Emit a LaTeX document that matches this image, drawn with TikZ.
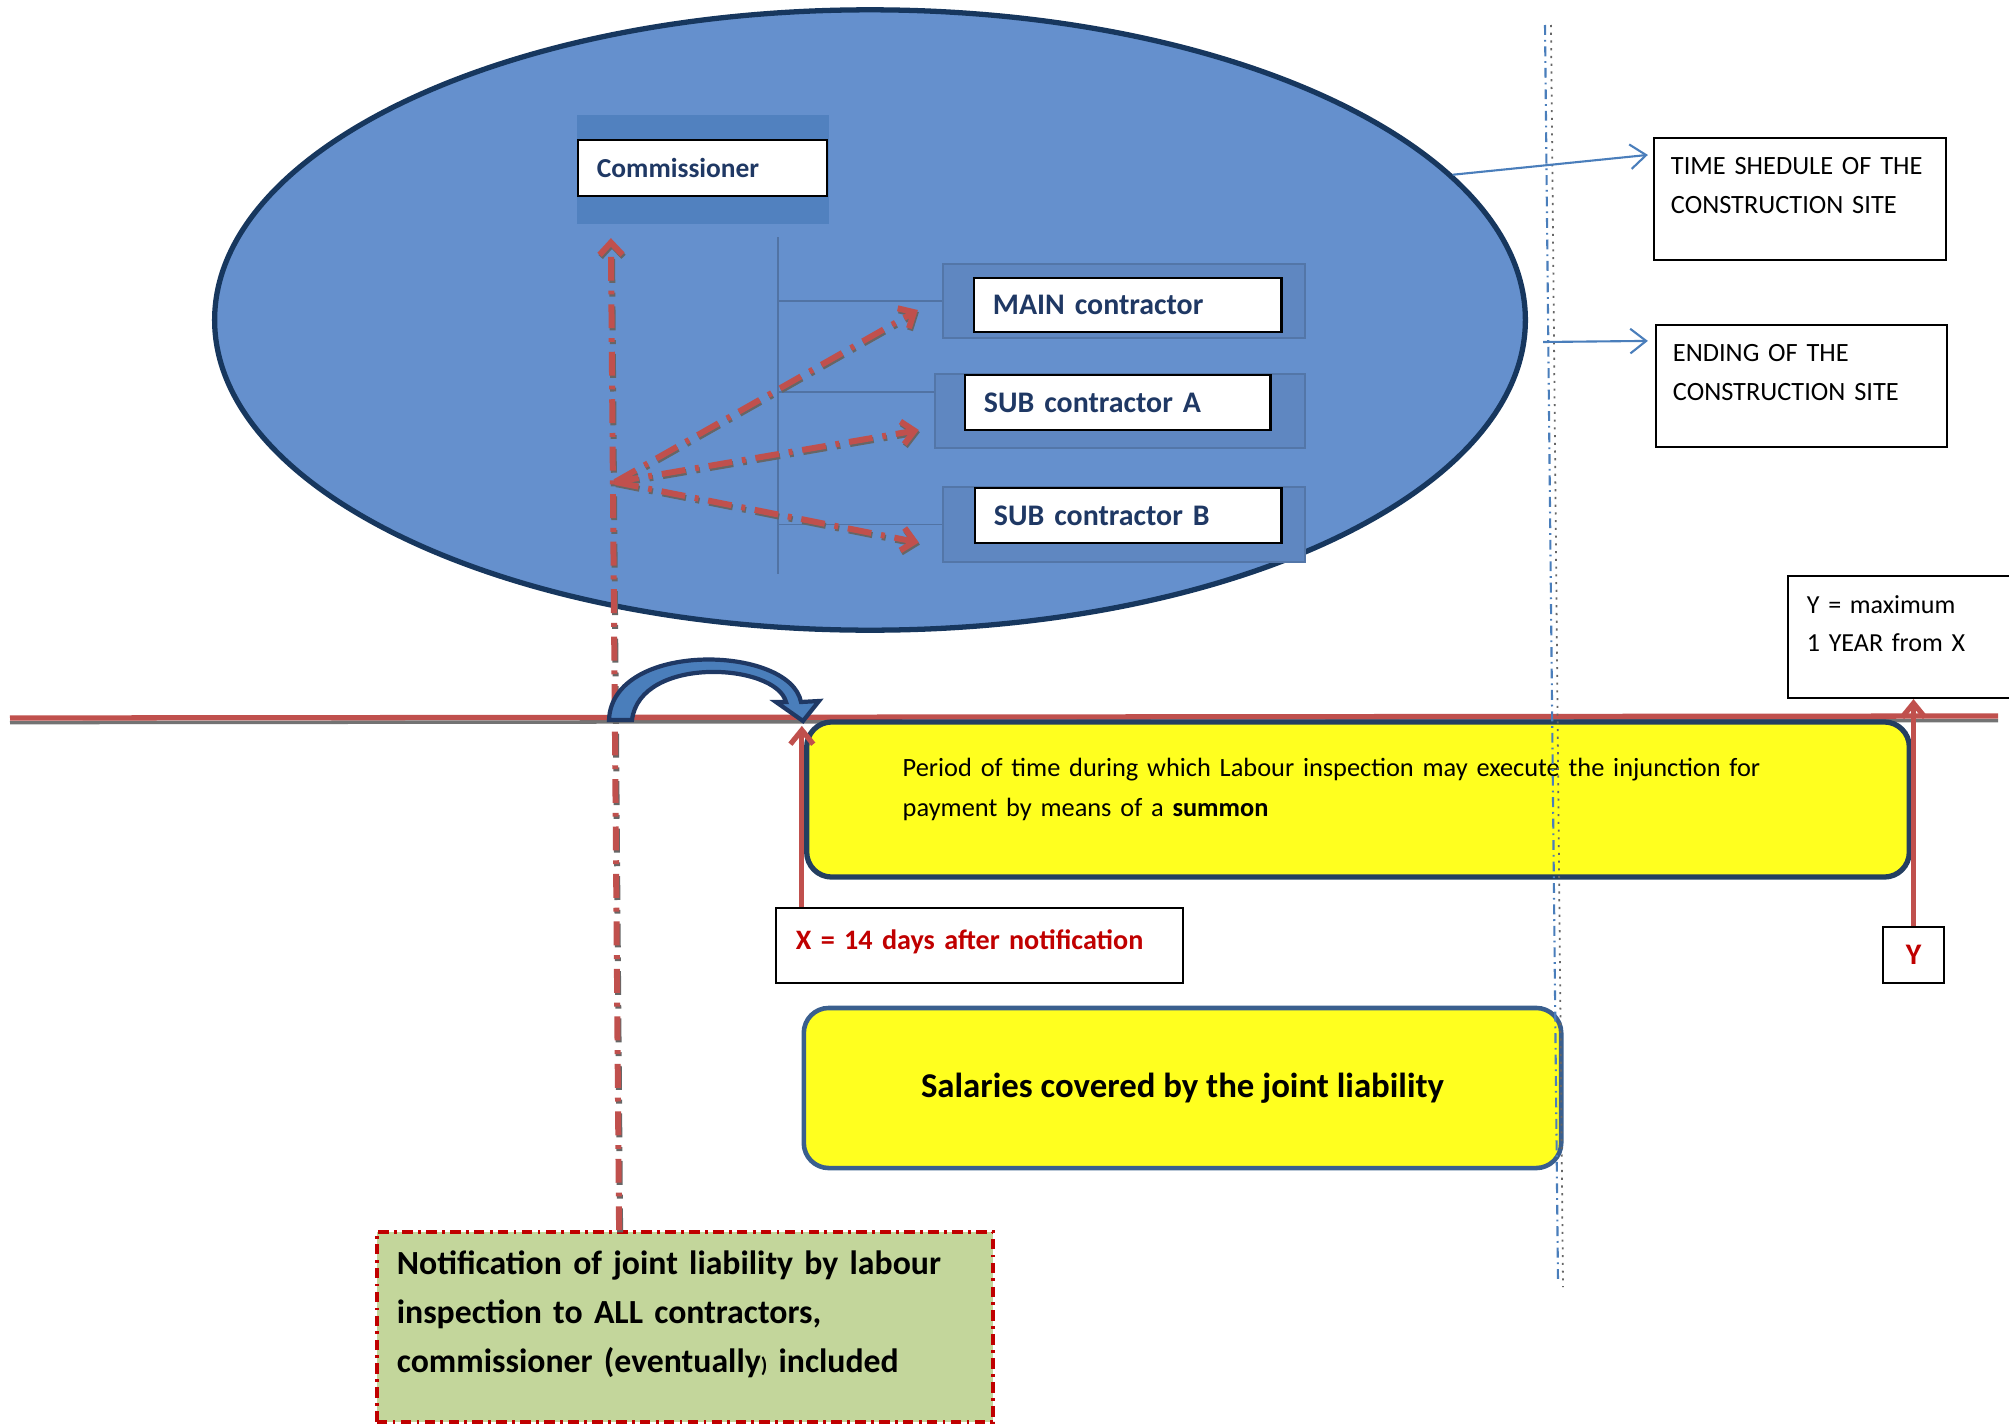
\documentclass[tikz,border=0pt]{standalone}
\usepackage{fontspec}
\setmainfont{Carlito}
\usetikzlibrary{shapes.geometric,arrows.meta,calc,positioning}
\definecolor{siteblue}{HTML}{6590CD}
\definecolor{sitenavy}{HTML}{17375E}
\definecolor{bandblue}{HTML}{5181BF}
\definecolor{rolenavy}{HTML}{1F3864}
\definecolor{inkred}{HTML}{C0504D}
\definecolor{textred}{HTML}{C00000}
\definecolor{lineblue}{HTML}{4A7EBB}
\definecolor{boxyellow}{HTML}{FFFF1F}
\definecolor{notegreen}{HTML}{C3D69B}
\definecolor{framenavy}{HTML}{243F60}
\definecolor{framesteel}{HTML}{3A5F8E}
\tikzset{
	sitebox/.style   = {draw=sitenavy, line width=1.5pt, ellipse, fill=siteblue},
	bandbox/.style   = {rectangle, fill=siteblue!94!black, draw=siteblue!82!black, line width=0.6pt},
	rolebox/.style   = {draw, rectangle, line width=0.8pt, fill=white, text=rolenavy,
		align=left, inner xsep=0.19cm, font=\bfseries\fontsize{8.5}{10}\selectfont},
	infobox/.style   = {draw, rectangle, line width=0.6pt, fill=white, align=left,
		inner xsep=0.19cm, minimum height=1.22cm, font=\fontsize{7.5}{11.2}\selectfont},
	yellowbox/.style = {draw=framenavy, line width=1.5pt, rectangle, rounded corners=0.25cm,
		fill=boxyellow},
	noticebox/.style = {draw=textred, line width=1pt, rectangle, fill=notegreen, align=left,
		dash pattern=on 3pt off 1.5pt on 0.8pt off 1.5pt, inner xsep=0.2cm,
		font=\bfseries\fontsize{9.6}{13.9}\selectfont},
	orgline/.style   = {draw=siteblue!80!black, line width=0.5pt},
	reddash/.style   = {line width=1.7pt, dash pattern=on 6.8pt off 2.8pt on 1.1pt off 2.8pt},
	redarrow/.style  = {draw=inkred, reddash, -{Straight Barb[length=3.5pt,width=6.5pt]},
		preaction={draw=black!60, reddash, transform canvas={shift={(0.3pt,-0.6pt)}}}},
	timeline/.style  = {draw=inkred, line width=1.5pt,
		preaction={draw=black!55, line width=1pt, transform canvas={yshift=-1.3pt}}},
	tlarrow/.style   = {draw=inkred, line width=1.5pt, -{Straight Barb[length=4pt,width=6.5pt]}},
	bluearrow/.style = {draw=lineblue, line width=0.6pt, -{Straight Barb[length=4.5pt,width=7pt]}},
	hoparrow/.style  = {draw=rolenavy, line width=1.2pt, fill=lineblue}
}

\begin{document}
\begin{tikzpicture}[x=0.01cm, y=-0.01cm]
	\useasboundingbox (0,0) rectangle (2009,1424);

	% the construction site with its parties
	\draw
	node at (870,320) [sitebox, minimum width=13.1cm, minimum height=6.2cm] (site) {}
	node at (703,169.5) [bandbox, fill=bandblue, draw=none, minimum width=2.52cm, minimum height=1.09cm] (commband) {}
	node at (702.5,168) [rolebox, text width=2.11cm, minimum height=0.56cm,
		font=\bfseries\fontsize{7.8}{9}\selectfont] (comm) {Commissioner}
	node at (1124,301) [bandbox, minimum width=3.62cm, minimum height=0.74cm] (mainband) {}
	node at (1127.5,305) [rolebox, text width=2.69cm, minimum height=0.54cm] (main) {MAIN contractor}
	node at (1120,411) [bandbox, minimum width=3.70cm, minimum height=0.74cm] (subaband) {}
	node at (1117.5,402.5) [rolebox, text width=2.67cm, minimum height=0.55cm] (suba) {SUB contractor A}
	node at (1124,524.5) [bandbox, minimum width=3.62cm, minimum height=0.75cm] (subbband) {}
	node at (1128,515.5) [rolebox, text width=2.68cm, minimum height=0.55cm] (subb) {SUB contractor B};

	% boxes on the right
	\draw
	node at (1800,199) [infobox, text width=2.58cm, inner xsep=0.17cm] (sched) {TIME SHEDULE OF THE\\CONSTRUCTION SITE\\[-3.4pt]~}
	node at (1801.5,386) [infobox, text width=2.57cm, inner xsep=0.17cm] (ending) {ENDING OF THE\\CONSTRUCTION SITE\\[-3.4pt]~}
	node at (1908,637) [infobox, text width=2.02cm, font=\fontsize{7.4}{10.8}\selectfont] (ymax) {Y = maximum\\1 YEAR from X\\[-3pt]~};

	% time line
	\coordinate (tlstart) at (10,718);
	\coordinate (tlend) at (1998,716);
	\draw[timeline] (tlstart) -- (tlend);

	\draw
	node at (1358,799.5) [yellowbox, minimum width=11.02cm, minimum height=1.55cm, align=left,
		inner xsep=0.96cm, text width=9.1cm, font=\fontsize{7.5}{11.4}\selectfont] (period)
		{Period of time during which Labour inspection may execute the injunction for\\payment by means of a \textbf{summon}\\[-4.6pt]~}
	node at (979.5,945.5) [draw, line width=0.6pt, rectangle, align=left, inner xsep=0.2cm, text width=3.67cm,
		minimum height=0.75cm, text=textred, font=\bfseries\fontsize{8}{10}\selectfont] (xday) {X = 14 days after notification\\[-6.4pt]~}
	node at (1913.5,955) [draw, line width=0.6pt, rectangle, minimum width=0.61cm, minimum height=0.56cm,
		text=textred, font=\bfseries\fontsize{8.5}{10}\selectfont] (ybox) {Y}
	node at (1182.5,1088) [yellowbox, draw=framesteel, line width=1.3pt, minimum width=7.57cm, minimum height=1.6cm,
		font=\bfseries\fontsize{9.9}{12}\selectfont] (salary) {Salaries covered by the joint liability}
	node at (685,1327) [noticebox, text width=5.76cm, minimum height=1.9cm] (note)
		{Notification of joint liability by labour\\inspection to ALL contractors,\\commissioner (eventually{\fontsize{6}{7}\selectfont)} included\\[-5pt]~};

	% org chart lines inside the site
	\coordinate (trunk) at (778,237);
	\coordinate (trunkend) at (778,574);
	\coordinate (arma) at (778,392);
	\draw[orgline] (trunk) -- (trunkend);
	\draw[orgline] (trunk |- mainband.west) -- (mainband.west);
	\draw[orgline] (arma) -- (arma -| subaband.west);
	\draw[orgline] (trunk |- subbband.west) -- (subbband.west);

	% notification to all parties
	\coordinate (hub) at (615,482);
	\coordinate (notetop) at ($(note.north west)+(244,0)$);
	\draw[redarrow] (notetop) -- ($(commband.south west)+(35,13)$);
	\draw[redarrow] (hub) -- ($(mainband.west)+(-24,9)$);
	\draw[redarrow] (hub) -- ($(subaband.west)+(-15,19)$);
	\draw[redarrow] (hub) -- ($(subbband.west)+(-23,18)$);

	% end of the site
	\coordinate (vtop) at (1545,25);
	\coordinate (vbot) at (1558,1283);
	\draw[lineblue, line width=0.6pt, dash pattern=on 2.8pt off 1.4pt on 0.5pt off 1.4pt] (vtop) -- (vbot);
	\draw[black!60, line width=0.5pt, dash pattern=on 0.6pt off 1.6pt] ($(vtop)+(6,0)$) -- ($(vbot)+(5,4)$);
	\coordinate (endfrom) at (1543,342);
	\draw[bluearrow] (site.14.8) -- ($(sched.north west)+(-5,18)$);
	\draw[bluearrow] (endfrom) -- ($(ending.north west)+(-7,17)$);

	% X and Y on the time line
	\draw[tlarrow] ($(xday.north west)+(27,0)$) -- ($(xday.north west)+(27,-181)$);
	\draw[tlarrow] (ybox.north) -- (ybox.north |- ymax.south);

	% the 14 days jump
	\draw[hoparrow] (609,720) .. controls (612,640) and (790,645) .. (801,702)
		-- (819,701) -- (803,721) -- (776,702) -- (786,702)
		.. controls (776,663) and (640,655) .. (632,720) -- cycle;
\end{tikzpicture}
\end{document}
